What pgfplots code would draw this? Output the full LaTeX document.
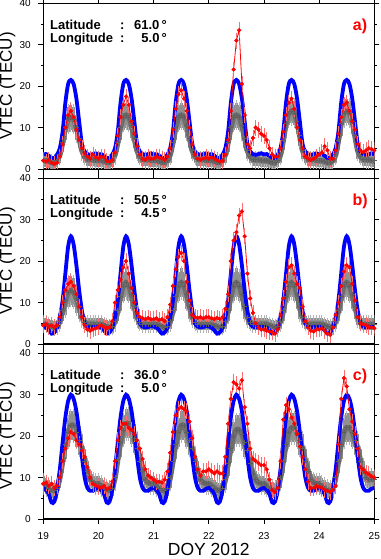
\documentclass[border=0pt]{standalone}
\usepackage{fontspec}
\setmainfont{Liberation Sans}
\usepackage{pgfplots}
\usepackage{pgfplotstable}
\pgfplotsset{compat=1.18}

\pgfplotstableread{
x b g ge r
19.00 3.5 2.0 1.5 2.0
19.05 3.6 2.0 1.5 1.8
19.10 3.2 1.8 1.5 2.2
19.15 2.7 1.5 1.5 1.5
19.20 2.6 1.5 1.5 1.2
19.25 3.5 2.0 1.5 1.5
19.30 5.0 3.5 2.0 3.0
19.35 9.0 6.5 2.5 6.0
19.40 16.0 10.0 3.0 10.0
19.45 20.5 12.0 3.0 13.0
19.50 21.5 12.5 3.0 14.0
19.55 20.5 12.0 3.0 12.5
19.60 17.0 10.0 3.0 9.5
19.65 11.5 7.5 2.5 7.0
19.70 6.0 4.5 2.0 5.0
19.75 4.2 3.0 1.5 3.8
19.80 3.6 2.3 1.5 3.0
19.85 3.4 2.2 1.5 2.5
19.90 3.6 2.2 1.5 3.5
19.95 3.8 2.1 1.5 2.8
20.00 3.5 2.0 1.5 2.5
20.05 3.6 2.0 1.5 3.0
20.10 3.2 1.8 1.5 2.8
20.15 2.7 1.5 1.5 2.0
20.20 2.6 1.5 1.5 1.8
20.25 3.5 2.0 1.5 2.2
20.30 5.0 3.5 2.0 4.0
20.35 9.0 6.5 2.5 8.0
20.40 16.0 10.0 3.0 12.5
20.45 20.5 12.5 3.0 15.5
20.50 21.5 13.0 3.0 17.5
20.55 20.5 12.5 3.0 15.5
20.60 17.0 10.5 3.0 11.5
20.65 11.5 7.5 2.5 8.5
20.70 6.0 4.5 2.0 5.5
20.75 4.2 3.0 1.5 3.5
20.80 3.6 2.3 1.5 2.5
20.85 3.4 2.2 1.5 2.2
20.90 3.6 2.2 1.5 2.8
20.95 3.8 2.1 1.5 2.5
21.00 3.5 2.0 1.5 2.5
21.05 3.6 2.0 1.5 3.0
21.10 3.2 1.8 1.5 2.8
21.15 2.7 1.5 1.5 2.5
21.20 2.6 1.5 1.5 2.2
21.25 3.5 2.0 1.5 3.0
21.30 5.0 3.5 2.0 5.0
21.35 9.0 6.5 2.5 9.5
21.40 16.0 10.0 3.0 14.5
21.45 20.5 12.5 3.0 18.0
21.50 21.5 13.0 3.0 19.0
21.55 20.5 12.5 3.0 17.0
21.60 17.0 10.5 3.0 14.0
21.65 11.5 7.5 2.5 10.0
21.70 6.0 4.5 2.0 6.0
21.75 4.2 3.0 1.5 3.5
21.80 3.6 2.3 1.5 2.5
21.85 3.4 2.2 1.5 2.2
21.90 3.6 2.2 1.5 2.5
21.95 3.8 2.1 1.5 2.8
22.00 3.5 2.0 1.5 2.5
22.05 3.6 2.0 1.5 2.8
22.10 3.2 1.8 1.5 2.5
22.15 2.7 1.5 1.5 2.2
22.20 2.6 1.5 1.5 1.8
22.25 3.5 2.0 1.5 2.0
22.30 5.0 3.5 2.0 3.5
22.35 9.0 6.5 2.5 7.0
22.40 16.0 10.0 3.0 14.0
22.45 20.5 12.5 3.0 24.0
22.50 21.5 13.0 3.0 31.0
22.55 20.5 12.5 3.0 33.5
22.60 17.0 10.5 3.0 20.5
22.65 11.5 7.5 2.5 13.0
22.70 6.0 4.5 2.0 6.0
22.75 4.2 3.0 1.5 5.0
22.80 3.6 2.3 1.5 7.5
22.85 3.4 2.2 1.5 10.0
22.90 3.6 2.2 1.5 9.5
22.95 3.8 2.1 1.5 8.5
23.00 3.5 2.0 1.5 8.0
23.05 3.6 2.0 1.5 7.0
23.10 3.2 1.8 1.5 5.0
23.15 2.7 1.5 1.5 3.5
23.20 2.6 1.5 1.5 3.0
23.25 3.5 2.0 1.5 3.0
23.30 5.0 3.5 2.0 5.0
23.35 9.0 7.0 2.5 9.0
23.40 16.0 11.0 3.0 13.0
23.45 20.5 13.5 3.0 16.0
23.50 21.5 14.0 3.0 17.0
23.55 20.5 13.5 3.0 14.5
23.60 17.0 11.5 3.0 10.0
23.65 11.5 8.0 2.5 7.0
23.70 6.0 4.5 2.0 5.0
23.75 4.2 3.0 1.5 3.0
23.80 3.6 2.3 1.5 2.5
23.85 3.4 2.2 1.5 2.2
23.90 3.6 2.2 1.5 2.5
23.95 3.8 2.1 1.5 3.0
24.00 3.5 2.0 1.5 3.5
24.05 3.6 2.0 1.5 4.0
24.10 3.2 1.8 1.5 5.5
24.15 2.7 1.5 1.5 4.5
24.20 2.6 1.5 1.5 2.5
24.25 3.5 2.0 1.5 2.5
24.30 5.0 3.5 2.0 4.5
24.35 9.0 7.0 2.5 8.5
24.40 16.0 11.0 3.0 12.5
24.45 20.5 13.5 3.0 15.5
24.50 21.5 14.0 3.0 16.0
24.55 20.5 13.5 3.0 14.0
24.60 17.0 11.5 3.0 11.5
24.65 11.5 8.0 2.5 9.5
24.70 6.0 4.5 2.0 6.0
24.75 4.2 3.0 1.5 4.5
24.80 3.6 2.3 1.5 4.0
24.85 3.4 2.2 1.5 4.5
24.90 3.6 2.2 1.5 5.0
24.95 3.8 2.1 1.5 4.8
25.00 3.5 2.0 1.5 4.5
}\tabA

\pgfplotstableread{
x b g ge r
19.00 4.2 4.8 1.5 4.5
19.05 4.0 4.8 1.5 4.8
19.10 3.3 4.5 1.5 4.2
19.15 2.5 4.2 1.5 4.5
19.20 2.8 4.0 1.5 4.0
19.25 4.0 4.2 1.5 4.5
19.30 6.5 5.5 2.0 6.5
19.35 10.5 8.0 2.5 10.0
19.40 17.0 10.5 3.5 13.0
19.45 23.5 12.5 3.5 14.5
19.50 26.0 13.0 3.5 15.0
19.55 24.0 12.5 3.5 14.0
19.60 19.0 11.0 3.5 12.0
19.65 13.0 9.0 3.0 9.0
19.70 8.0 6.5 2.0 6.5
19.75 5.0 5.2 1.5 4.5
19.80 4.2 4.8 1.5 3.5
19.85 4.0 4.8 1.5 3.2
19.90 4.1 4.8 1.5 3.5
19.95 4.3 4.8 1.5 3.8
20.00 4.2 4.8 1.5 4.2
20.05 4.0 4.8 1.5 4.5
20.10 3.3 4.5 1.5 4.0
20.15 2.5 4.2 1.5 3.8
20.20 2.8 4.0 1.5 4.0
20.25 4.0 4.2 1.5 5.5
20.30 6.5 5.5 2.0 10.0
20.35 10.5 8.0 2.5 13.0
20.40 17.0 11.5 3.5 15.5
20.45 23.5 14.0 3.5 18.5
20.50 26.0 14.8 3.5 20.0
20.55 24.0 14.0 3.5 17.0
20.60 19.0 12.0 3.5 13.5
20.65 13.0 9.0 3.0 10.0
20.70 8.0 6.5 2.0 7.5
20.75 5.0 5.2 1.5 6.5
20.80 4.2 4.8 1.5 6.2
20.85 4.0 4.8 1.5 6.0
20.90 4.1 4.8 1.5 6.3
20.95 4.3 4.8 1.5 6.0
21.00 4.2 4.8 1.5 6.0
21.05 4.0 4.8 1.5 6.2
21.10 3.3 4.5 1.5 5.8
21.15 2.5 4.2 1.5 6.0
21.20 2.8 4.0 1.5 5.5
21.25 4.0 4.2 1.5 6.5
21.30 6.5 5.5 2.0 9.5
21.35 10.5 8.0 2.5 14.0
21.40 17.0 11.5 3.5 18.0
21.45 23.5 14.0 3.5 21.0
21.50 26.0 14.8 3.5 22.0
21.55 24.0 14.0 3.5 20.0
21.60 19.0 12.0 3.5 15.0
21.65 13.0 9.0 3.0 10.5
21.70 8.0 6.5 2.0 7.0
21.75 5.0 5.2 1.5 6.5
21.80 4.2 4.8 1.5 6.3
21.85 4.0 4.8 1.5 6.5
21.90 4.1 4.8 1.5 6.2
21.95 4.3 4.8 1.5 6.5
22.00 4.2 4.8 1.5 6.5
22.05 4.0 4.8 1.5 6.2
22.10 3.3 4.5 1.5 6.0
22.15 2.5 4.2 1.5 6.3
22.20 2.8 4.0 1.5 6.0
22.25 4.0 4.2 1.5 6.5
22.30 6.5 5.5 2.0 8.5
22.35 10.5 8.0 2.5 12.0
22.40 17.0 11.5 3.5 20.0
22.45 23.5 14.0 3.5 25.0
22.50 26.0 14.8 3.5 27.0
22.55 24.0 14.0 3.5 31.0
22.60 19.0 12.0 3.5 32.0
22.65 13.0 9.0 3.0 26.0
22.70 8.0 6.5 2.0 17.0
22.75 5.0 5.2 1.5 11.0
22.80 4.2 4.8 1.5 7.5
22.85 4.0 4.8 1.5 5.0
22.90 4.1 4.8 1.5 4.0
22.95 4.3 4.8 1.5 3.5
23.00 4.2 4.8 1.5 3.5
23.05 4.0 4.8 1.5 3.2
23.10 3.3 4.5 1.5 3.0
23.15 2.5 4.2 1.5 2.8
23.20 2.8 4.0 1.5 2.5
23.25 4.0 4.2 1.5 3.5
23.30 6.5 5.5 2.0 7.0
23.35 10.5 8.0 2.5 11.0
23.40 17.0 11.5 3.5 15.0
23.45 23.5 14.0 3.5 18.5
23.50 26.0 14.8 3.5 19.0
23.55 24.0 14.0 3.5 17.0
23.60 19.0 12.0 3.5 14.5
23.65 13.0 9.0 3.0 13.5
23.70 8.0 6.5 2.0 9.0
23.75 5.0 5.2 1.5 5.5
23.80 4.2 4.8 1.5 4.0
23.85 4.0 4.8 1.5 3.2
23.90 4.1 4.8 1.5 3.0
23.95 4.3 4.8 1.5 3.5
24.00 4.2 4.8 1.5 3.5
24.05 4.0 4.8 1.5 3.8
24.10 3.3 4.5 1.5 3.2
24.15 2.5 4.2 1.5 2.5
24.20 2.8 4.0 1.5 2.2
24.25 4.0 4.2 1.5 4.0
24.30 6.5 5.5 2.0 7.0
24.35 10.5 8.0 2.5 10.0
24.40 17.0 11.5 3.5 14.0
24.45 23.5 14.0 3.5 17.5
24.50 26.0 14.8 3.5 19.0
24.55 24.0 14.0 3.5 18.5
24.60 19.0 12.0 3.5 14.5
24.65 13.0 9.0 3.0 10.5
24.70 8.0 6.5 2.0 6.5
24.75 5.0 5.2 1.5 5.0
24.80 4.2 4.8 1.5 4.8
24.85 4.0 4.8 1.5 4.5
24.90 4.1 4.8 1.5 4.2
24.95 4.3 4.8 1.5 4.0
25.00 4.2 4.8 1.5 3.8
}\tabB

\pgfplotstableread{
x b g ge r
19.00 7.5 8.5 2.0 8.5
19.05 7.0 8.0 2.0 8.8
19.10 6.0 7.5 2.0 8.0
19.15 4.0 7.0 2.0 8.5
19.20 4.2 6.8 2.0 7.5
19.25 7.0 7.5 2.0 8.0
19.30 12.0 10.0 2.5 10.0
19.35 18.5 14.0 3.0 14.0
19.40 24.5 18.0 3.5 17.0
19.45 28.5 21.0 3.5 19.5
19.50 30.0 22.5 3.5 21.0
19.55 29.0 22.5 3.5 20.5
19.60 26.0 21.0 3.5 19.0
19.65 21.0 19.0 3.5 18.0
19.70 15.0 17.0 3.5 16.5
19.75 10.0 14.0 3.0 15.0
19.80 7.5 11.5 2.5 12.5
19.85 6.8 9.5 2.0 10.0
19.90 6.8 8.8 2.0 8.5
19.95 7.3 8.5 2.0 8.0
20.00 7.5 8.5 2.0 7.8
20.05 7.0 8.0 2.0 7.5
20.10 6.0 7.5 2.0 8.0
20.15 4.0 7.0 2.0 7.2
20.20 4.2 6.8 2.0 7.5
20.25 7.0 7.5 2.0 9.0
20.30 12.0 10.0 2.5 14.0
20.35 18.5 14.5 3.0 19.0
20.40 24.5 18.5 3.5 22.0
20.45 28.5 21.5 3.5 23.0
20.50 30.0 23.0 3.5 23.0
20.55 29.0 23.0 3.5 22.0
20.60 26.0 21.5 3.5 21.5
20.65 21.0 19.5 3.5 20.5
20.70 15.0 17.0 3.5 19.0
20.75 10.0 14.0 3.0 17.0
20.80 7.5 11.5 2.5 14.5
20.85 6.8 9.5 2.0 12.0
20.90 6.8 8.8 2.0 10.5
20.95 7.3 8.5 2.0 10.0
21.00 7.5 8.5 2.0 9.5
21.05 7.0 8.0 2.0 9.0
21.10 6.0 7.5 2.0 9.0
21.15 4.0 7.0 2.0 8.8
21.20 4.2 6.8 2.0 9.5
21.25 7.0 7.5 2.0 11.5
21.30 12.0 10.0 2.5 16.0
21.35 18.5 14.0 3.0 21.0
21.40 24.5 18.0 3.5 25.0
21.45 28.5 21.0 3.5 26.5
21.50 30.0 22.5 3.5 27.0
21.55 29.0 22.5 3.5 26.5
21.60 26.0 21.0 3.5 26.0
21.65 21.0 19.0 3.5 23.5
21.70 15.0 17.0 3.5 19.5
21.75 10.0 14.0 3.0 15.0
21.80 7.5 11.5 2.5 12.0
21.85 6.8 9.5 2.0 10.5
21.90 6.8 8.8 2.0 11.5
21.95 7.3 8.5 2.0 11.5
22.00 7.5 8.5 2.0 12.0
22.05 7.0 8.0 2.0 11.5
22.10 6.0 7.5 2.0 11.0
22.15 4.0 7.0 2.0 11.5
22.20 4.2 6.8 2.0 11.0
22.25 7.0 7.5 2.0 11.0
22.30 12.0 9.5 2.5 15.0
22.35 18.5 13.5 3.0 23.0
22.40 24.5 17.0 3.5 29.0
22.45 28.5 20.0 3.5 33.0
22.50 30.0 21.5 3.5 32.5
22.55 29.0 21.5 3.5 31.5
22.60 26.0 20.5 3.5 33.5
22.65 21.0 18.5 3.5 27.0
22.70 15.0 16.5 3.5 23.0
22.75 10.0 13.5 3.0 17.0
22.80 7.5 11.0 2.5 14.5
22.85 6.8 9.5 2.0 14.0
22.90 6.8 8.8 2.0 13.5
22.95 7.3 8.5 2.0 13.0
23.00 7.5 8.5 2.0 13.0
23.05 7.0 8.0 2.0 12.0
23.10 6.0 7.5 2.0 9.5
23.15 4.0 7.0 2.0 7.0
23.20 4.2 6.8 2.0 6.5
23.25 7.0 7.5 2.0 7.5
23.30 12.0 10.0 2.5 14.0
23.35 18.5 14.0 3.0 24.0
23.40 24.5 18.0 3.5 27.5
23.45 28.5 21.0 3.5 26.5
23.50 30.0 22.0 3.5 24.5
23.55 29.0 22.0 3.5 23.0
23.60 26.0 21.0 3.5 20.5
23.65 21.0 19.0 3.5 17.5
23.70 15.0 17.0 3.5 15.0
23.75 10.0 14.0 3.0 12.0
23.80 7.5 11.5 2.5 9.0
23.85 6.8 9.5 2.0 7.5
23.90 6.8 8.8 2.0 7.5
23.95 7.3 8.5 2.0 8.0
24.00 7.5 8.5 2.0 7.8
24.05 7.0 8.0 2.0 7.5
24.10 6.0 7.5 2.0 7.0
24.15 4.0 7.0 2.0 6.8
24.20 4.2 6.8 2.0 6.5
24.25 7.0 7.5 2.0 7.0
24.30 12.0 10.0 2.5 8.0
24.35 18.5 14.0 3.0 18.0
24.40 24.5 18.0 3.5 29.0
24.45 28.5 21.0 3.5 34.0
24.50 30.0 22.0 3.5 32.0
24.55 29.0 22.0 3.5 26.5
24.60 26.0 21.0 3.5 23.5
24.65 21.0 19.0 3.5 20.5
24.70 15.0 17.0 3.5 17.0
24.75 10.0 14.0 3.0 12.5
24.80 7.5 11.5 2.5 12.0
24.85 6.8 10.0 2.0 11.2
24.90 6.8 9.5 2.0 10.8
24.95 7.3 9.5 2.0 10.3
25.00 7.5 9.5 2.0 10.0
}\tabC

\definecolor{gmark}{RGB}{95,95,95}
\definecolor{gline}{RGB}{110,110,110}
\definecolor{gbar}{RGB}{145,145,145}
\definecolor{gcap}{RGB}{180,180,180}
\definecolor{rbar}{RGB}{255,110,110}

\pgfplotsset{
  panel/.style={
    scale only axis, width=331pt, height=165.7pt, anchor=south west,
    xmin=19, xmax=25, ymin=0, ymax=40,
    xtick={19,20,21,22,23,24,25}, ytick={0,10,20,30,40},
    minor ytick={5,15,25,35},
    tick align=outside, major tick length=5pt, minor tick length=2.5pt,
    every tick/.style={black, line width=0.9pt},
    axis line style={line width=1.3pt},
    tick label style={font=\fontsize{10}{11}\selectfont},
    /pgf/number format/assume math mode=true,
    yticklabel style={xshift=-4pt},
    xticklabel style={yshift=-4.5pt},
    ylabel={VTEC (TECU)},
    every axis y label/.style={at={(axis description cs:-0.1082,0.5)}, rotate=90, anchor=center, font=\fontsize{17}{18}\selectfont},
    every axis x label/.style={at={(axis description cs:0.5,0)}, anchor=base, inner sep=0pt, yshift=-37pt, font=\fontsize{17.5}{18}\selectfont},
  },
  grayband/.style={draw=none, mark=none,
    error bars/.cd, y dir=both, y explicit,
    error bar style={gbar, line width=2.8pt},
    error mark options={gcap, mark size=2.6pt, line width=0.9pt}},
  grayline/.style={gline, line width=5.5pt, smooth, no marks},
  graymarks/.style={only marks, mark=+, mark size=2.4pt, mark options={gmark, line width=0.8pt}},
  blueser/.style={blue, line width=3.8pt, smooth, no marks},
  redser/.style={red, line width=0.8pt, mark=*, mark size=1.7pt, mark options={solid, red},
    error bars/.cd, y dir=both, y fixed=1.3,
    error bar style={rbar, line width=0.8pt},
    error mark options={rbar, mark size=2.6pt, line width=0.8pt}},
}

\newcommand{\panelplots}[1]{%
  \addplot[grayband] table[x=x, y=g, y error=ge] {#1};
  \addplot[grayline] table[x=x, y=g] {#1};
  \addplot[graymarks] table[x=x, y=g] {#1};
  \addplot[blueser] table[x=x, y=b] {#1};
  \addplot[redser] table[x=x, y=r] {#1};}

\newcommand{\latlon}[2]{%
  \node[anchor=base west, inner sep=0pt, font=\fontsize{13}{12.7}\selectfont\bfseries]
    at (axis description cs:0.0202,0.843)
    {\begin{tabular}[t]{@{}p{70pt}@{}p{14pt}@{}r@{}}Latitude & : & #1\,°\\ Longitude & : & #2\,°\end{tabular}};}

\begin{document}
\begin{tikzpicture}
\path[use as bounding box] (-43.3pt,-40pt) rectangle (336.7pt,519pt);

\begin{axis}[panel, at={(0pt,350pt)}, xticklabels={}]
\panelplots{\tabA}
\latlon{61.0}{5.0}
\node[font=\fontsize{16}{16}\selectfont\bfseries, text=red] at (axis description cs:0.957,0.858) {a)};
\end{axis}

\begin{axis}[panel, at={(0pt,175pt)}, xticklabels={}]
\panelplots{\tabB}
\latlon{50.5}{4.5}
\node[font=\fontsize{16}{16}\selectfont\bfseries, text=red] at (axis description cs:0.957,0.858) {b)};
\end{axis}

\begin{axis}[panel, at={(0pt,0pt)}, xlabel={DOY 2012}]
\panelplots{\tabC}
\latlon{36.0}{5.0}
\node[font=\fontsize{16}{16}\selectfont\bfseries, text=red] at (axis description cs:0.957,0.858) {c)};
\end{axis}
\end{tikzpicture}
\end{document}
